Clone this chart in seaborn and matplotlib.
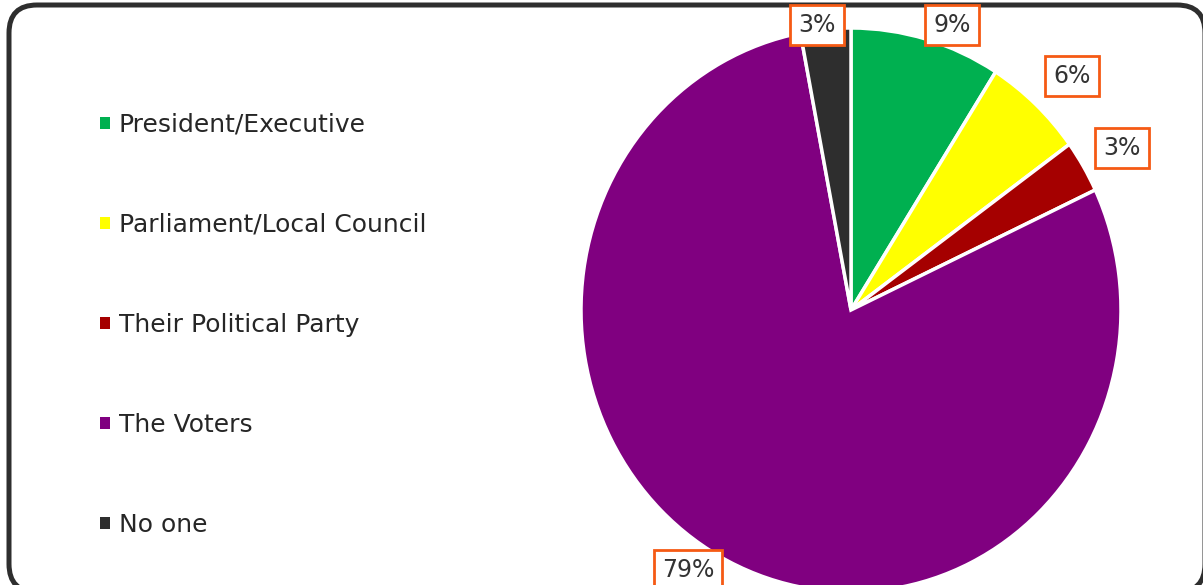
import matplotlib
matplotlib.use("Agg")
import matplotlib.pyplot as plt
from matplotlib.patches import FancyBboxPatch, Patch
import seaborn as sns

# Who respondents think MPs should answer to
categories = ["President/Executive", "Parliament/Local Council",
              "Their Political Party", "The Voters", "No one"]
shares = [9, 6, 3, 79, 3]
colors = ["#00B050", "#FFFF00", "#A50000", "#800080", "#2E2E2E"]

# label box centres in figure pixels (x from left, y from top)
label_xy = [(952, 25), (1072, 76), (1122, 148), (688, 570), (817, 25)]

sns.set_theme(style="white")
plt.rcParams["font.family"] = ["DejaVu Sans"]

W, H = 1203, 585
fig = plt.figure(figsize=(W / 100, H / 100), dpi=100)
fig.patch.set_facecolor("white")


def pixel_axes(z):
    a = fig.add_axes([0, 0, 1, 1], zorder=z)
    a.set_xlim(0, W)
    a.set_ylim(0, H)
    a.axis("off")
    a.patch.set_alpha(0)
    return a


# background layer: rounded chart frame (filled so it is not path-clipped)
back = pixel_axes(0)
left, right, top, bottom = 9, 1205, 5, 592
frame = FancyBboxPatch((left, H - bottom), right - left, bottom - top,
                       boxstyle="round,pad=0,rounding_size=28",
                       facecolor="white", edgecolor="#2E2E2E", linewidth=3.6,
                       clip_on=False)
back.add_patch(frame)

# pie axes: centre (851, 310), radii 270 x 282 px
cx, cy, rx, ry = 851, 310, 270, 282
ax = fig.add_axes([(cx - rx) / W, (H - cy - ry) / H, 2 * rx / W, 2 * ry / H], zorder=2)
wedges, _ = ax.pie(shares, colors=colors, startangle=90, counterclock=False,
                   wedgeprops=dict(edgecolor="white", linewidth=2.5))
ax.set_aspect("auto")
ax.set_xlim(-1, 1)
ax.set_ylim(-1, 1)
ax.axis("off")

# top layer: value labels and legend
over = pixel_axes(3)
for val, (x, y) in zip(shares, label_xy):
    over.text(x, H - y, f"{val}%", ha="center", va="center", fontsize=17,
              color="#333333", zorder=5,
              bbox=dict(boxstyle="square,pad=0.35", facecolor="white",
                        edgecolor="#F55A14", linewidth=2))

handles = [Patch(facecolor=c, edgecolor="none") for c in colors]
leg = over.legend(handles, categories, loc="upper left",
                  bbox_to_anchor=(90 / W, 1 - 103 / H), frameon=False,
                  fontsize=18, handlelength=0.4, handleheight=0.4,
                  handletextpad=0.35, labelspacing=3.04, borderaxespad=0)
for t in leg.get_texts():
    t.set_color("#262626")

fig.savefig("out.png", dpi=100, facecolor="white")
